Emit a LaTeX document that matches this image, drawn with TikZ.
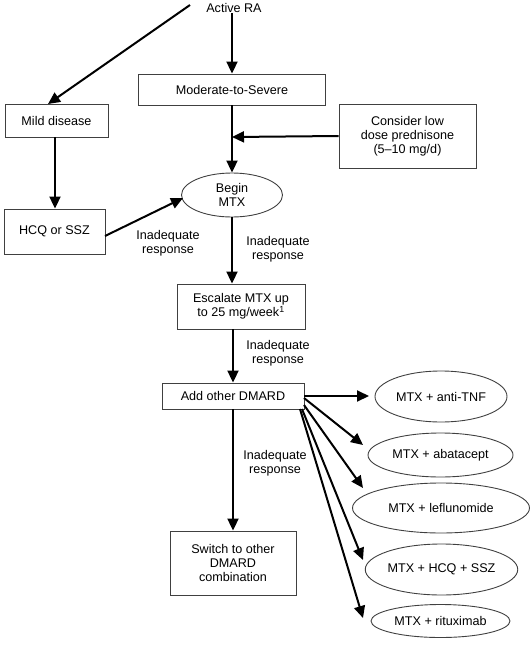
\documentclass[tikz,border=0pt]{standalone}
\usepackage{fontspec}
\setmainfont{Liberation Sans}
\usetikzlibrary{arrows.meta,shapes.geometric,calc}
\begin{document}
\begin{tikzpicture}[x=1pt,y=-1pt,
  every node/.style={font=\fontsize{12.6}{14}\selectfont, align=center, inner sep=0pt},
  box/.style={draw=black!75, line width=0.9pt, rectangle},
  oval/.style={draw=black!75, line width=0.9pt, ellipse},
  arr/.style={line width=2pt, -{Triangle[length=12pt,width=11pt]}},
  lbl/.style={}]
\useasboundingbox (0,0) rectangle (530,646);
% nodes
\node (ra) at (234,8) {Active RA};
\node[box, minimum width=187pt, minimum height=31pt] (mod) at (232,89.5) {Moderate-to-Severe};
\node[box, minimum width=103pt, minimum height=33pt] (mild) at (56.5,120.5) {Mild disease};
\node[box, minimum width=137pt, minimum height=64pt] (pred) at (407.5,136) {Consider low\\dose prednisone\\(5--10 mg/d)};
\node[oval, minimum width=101pt, minimum height=44pt] (mtx) at (232,195) {Begin\\MTX};
\node[box, minimum width=101pt, minimum height=45pt] (hcq) at (54.5,231.5) {HCQ or SSZ};
\node[box, minimum width=128pt, minimum height=45pt] (esc) at (241,306.5) {Escalate MTX up\\to 25 mg/week\textsuperscript{1}};
\node[box, minimum width=142pt, minimum height=26pt] (add) at (233,396) {Add other DMARD};
\node[box, minimum width=126pt, minimum height=64pt] (sw) at (233,563) {Switch to other\\DMARD\\combination};
\node[oval, minimum width=132pt, minimum height=51pt] (e1) at (441,396.5) {MTX + anti-TNF};
\node[oval, minimum width=145pt, minimum height=44pt] (e2) at (440.5,455) {MTX + abatacept};
\node[oval, minimum width=177pt, minimum height=50pt] (e3) at (441,508) {MTX + leflunomide};
\node[oval, minimum width=151pt, minimum height=51pt] (e4) at (441.5,569.5) {MTX + HCQ + SSZ};
\node[oval, minimum width=139pt, minimum height=33pt] (e5) at (440.5,621) {MTX + rituximab};
% labels
\node[lbl] (l1) at (168,243) {Inadequate\\response};
\node[lbl] (l2) at (278,249) {Inadequate\\response};
\node[lbl] (l3) at (278,353) {Inadequate\\response};
\node[lbl] (l4) at (275,463) {Inadequate\\response};
% coordinates
\coordinate (raL) at (190,5);
\coordinate (mildT) at (48,104);
\coordinate (predT) at (232,137);
\coordinate (hcqS) at (105,236);
\coordinate (mtxT) at (183,198);
\coordinate (s2) at (304,398);
\coordinate (s3) at (304,405);
\coordinate (s4) at (302,409);
\coordinate (s5) at (300,409);
\coordinate (t2) at (363,445);
\coordinate (t3) at (363,488);
\coordinate (t4) at (363,560);
\coordinate (t5) at (363,618);
\coordinate (t1) at (369,396);
% connectors
\draw[arr] (raL) -- (mildT);
\draw[arr] (mod.north |- ra.south) -- (mod.north);
\draw[arr] (mod.south) -- (mtx.north);
\draw[arr] (pred.west) -- (predT);
\draw[arr] (mild.south -| 55,0) -- (hcq.north -| 55,0);
\draw[arr] (hcqS) -- (mtxT);
\draw[arr] (mtx.south) -- (mtx.south |- esc.north);
\draw[arr] (add.north |- esc.south) -- (add.north);
\draw[arr] (add.east) -- (t1);
\draw[arr] (s2) -- (t2);
\draw[arr] (s3) -- (t3);
\draw[arr] (s4) -- (t4);
\draw[arr] (s5) -- (t5);
\draw[arr] (add.south) -- (sw.north);
\end{tikzpicture}
\end{document}
